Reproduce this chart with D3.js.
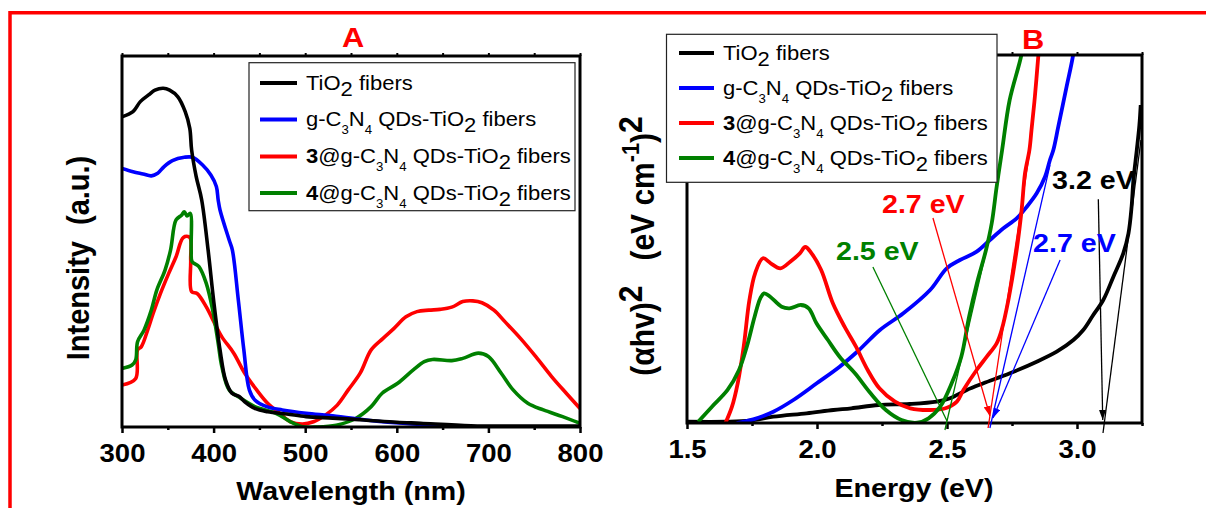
<!DOCTYPE html>
<html>
<head>
<meta charset="utf-8">
<script src="https://cdn.jsdelivr.net/npm/d3@7"></script>
<style>
  body { margin: 0; background: #fff; }
  svg { display: block; }
</style>
</head>
<body>
<svg id="fig" width="1206" height="508"></svg>
<script>
// ---------- Panel A: photoluminescence-type spectra (intensity, a.u.) ----------
const tio2Wl  = [300,312,320,329,336,345,352,361,369,374,376,381,387,394,400,407,413,420,428,434,445,459,480,501,530,564,600,626,681,740,800];
const tio2Int = [83.6,85.0,87.7,89.5,90.8,91.3,90.8,89.0,85.0,80.5,74.7,67.5,61.2,47.7,34.2,20.8,12.7,9.1,8.2,6.8,5.0,4.1,3.5,2.8,2.4,1.9,1.3,1.0,0.35,0.27,0.27];

const gcnWl  = [300,312,323,332,339,346,355,368,377,388,397,403,405,407,417,420.5,427,433,439,445,458,475,501,530,584,626,668,720,800];
const gcnInt = [69.7,68.8,68.2,67.7,68.4,70.2,71.8,72.7,72.7,70.6,67.9,64.8,61.2,58.5,50.4,47.7,34.2,20.8,10.0,7.3,5.5,4.6,3.7,3.0,1.4,0.67,0.08,0,0];

const s3Wl  = [300,315,317,321,328,334,342,351,359,367,374,375,376,382,392,401,409,422,434,447,459,472,484,497,509,522,535,547,560,572,585,597,610,622,635,647,660,672,683,693,706,718,735,752,769,785,800];
const s3Int = [11.3,13.1,20.8,21.6,26.1,30.6,36.0,41.4,45.9,51.1,51.1,45.0,36.5,36.0,32.4,28.0,24.3,19.9,14.5,10.0,6.4,3.7,1.4,0.8,1.4,3.2,5.9,10.0,14.5,20.8,23.9,26.6,29.7,31.1,31.5,31.7,32.3,33.8,34.0,33.5,31.5,28.4,23.9,18.9,13.6,9.1,5.0];

const s4Wl  = [300,311,315,317,324,332,338,347,353,359,365,368,371,374.5,375.5,376.5,384,392,399,405,409,417,430,445,468,484,497,513,534,555,572,584,601,618,630,639,660,672,689,700,714,727,743,760,781,800];
const s4Int = [15.8,16.7,18.1,23.0,26.1,31.5,36.9,42.3,47.7,55.8,57.1,58.0,56.9,57.6,47.7,44.6,43.2,38.7,31.5,22.6,16.3,10.0,7.7,5.5,3.7,1.4,0.08,0,0.5,2.3,5.5,9.1,11.8,15.4,17.6,18.2,17.9,18.5,19.9,19.0,14.5,10.0,6.4,4.6,2.8,1.0];

const wlTicks = [300,400,500,600,700,800];
const wlMinor = [350,450,550,650,750];

// ---------- Panel B: Tauc plot, (alpha h nu)^2 vs photon energy ----------
const tio2E   = [1.5,1.65,1.742,1.832,1.96,2.063,2.132,2.237,2.356,2.46,2.512,2.576,2.64,2.742,2.845,2.922,2.986,3.024,3.06,3.101,3.14,3.178,3.198,3.21,3.217,3.23,3.24,3.245];
const tio2Abs = [0.35,0.35,0.63,1.71,2.64,3.53,3.99,4.89,5.16,5.79,6.71,8.97,10.79,13.51,16.66,19.38,22.55,25.27,29.08,33.42,39.76,46.11,51.55,58.78,66.03,74.18,80.98,86.41];

const gcnE   = [1.691,1.755,1.832,1.909,1.999,2.087,2.162,2.242,2.332,2.435,2.499,2.55,2.614,2.665,2.717,2.768,2.807,2.845,2.877,2.896,2.909,2.928,2.96,2.984,2.995];
const gcnAbs = [0,1.0,3.07,6.25,10.79,15.30,19.84,25.27,29.81,36.14,42.04,44.29,46.55,49.73,52.91,55.63,58.78,62.42,66.93,71.47,74.18,80.52,91.39,99.54,105.4];

const s3E   = [1.648,1.673,1.695,1.718,1.740,1.762,1.792,1.822,1.859,1.897,1.934,1.955,1.979,2.016,2.061,2.106,2.150,2.195,2.240,2.300,2.359,2.434,2.494,2.538,2.563,2.614,2.653,2.691,2.71,2.736,2.768,2.787,2.80,2.817,2.825,2.838,2.851,2.86];
const s3Abs = [0,4.43,10.79,20.73,33.42,40.68,44.76,43.40,42.04,43.83,46.11,47.83,46.11,41.58,32.53,26.17,20.73,14.40,9.43,5.79,3.99,3.53,3.99,5.79,8.97,14.40,18.02,21.66,25.27,33.42,47.01,57.88,67.85,74.18,79.62,88.67,99.54,106.8];

const s4E   = [1.543,1.596,1.656,1.70,1.73,1.76,1.782,1.797,1.82,1.864,1.894,1.938,1.968,1.998,2.042,2.087,2.146,2.206,2.265,2.325,2.385,2.429,2.474,2.518,2.555,2.585,2.615,2.65,2.672,2.691,2.712,2.741,2.786,2.80];
const s4Abs = [0.35,4.43,8.97,14.40,20.73,28.89,33.89,35.24,34.32,31.60,31.17,32.07,31.17,27.09,22.55,18.02,13.51,8.07,3.53,0.82,0.08,1.28,4.43,10.79,18.02,28.89,37.96,47.01,54.27,64.21,74.18,87.77,100,106.8];

const eTicks = [1.5,2.0,2.5,3.0];
const eMinor = [1.75,2.25,2.75,3.25];

// Band-gap extrapolations: tangent segments and label pointers, [E, value] pairs
const gapTexts    = ["2.5 eV", "2.7 eV", "2.7 eV", "3.2 eV"];
const gapTangents = [
  [[2.492,-1.9],[2.665,51.1]],
  [[2.658,-1.36],[2.819,74.18]],
  [[2.665,-1.36],[2.896,70.1]],
  [[3.1,-2.72],[3.246,76.9]]
];
const gapPointers = [
  [[2.215,42.39],[2.5,0.54]],
  [[2.446,55.7],[2.665,1.9]],
  [[2.935,44.29],[2.677,1.36]],
  [[3.082,60.79],[3.099,0.82]]
];
const gapLabelAt = [[2.073,44.29],[2.25,56.98],[2.831,46.55],[2.904,63.5]];

// Legend entries: [text, kind] pieces (sub = lowered full size, subs = small subscript, b = bold)
const legendNames = [
  [["TiO"],["2","sub"],[" fibers"]],
  [["g-C"],["3","subs"],["N"],["4","subs"],[" QDs-TiO"],["2","sub"],[" fibers"]],
  [["3","b"],["@g-C"],["3","subs"],["N"],["4","subs"],[" QDs-TiO"],["2","sub"],[" fibers"]],
  [["4","b"],["@g-C"],["3","subs"],["N"],["4","subs"],[" QDs-TiO"],["2","sub"],[" fibers"]]
];

// ---------- styling ----------
const FONT = "'Liberation Sans', Arial, Helvetica, sans-serif";
const SX = 1.1;                     // glyph width factor used by every label
const COLORS = ["#000000", "#0000ff", "#ff0000", "#008000"];
const RED = "#ff0000";

const svg = d3.select("#fig");
svg.append("rect").attr("width",1206).attr("height",508).attr("fill","#fff");

// outer frame (top and left edges)
svg.append("path").attr("d","M1206,12.7H10V508").attr("fill","none")
   .attr("stroke",RED).attr("stroke-width",3.5);

const defs = svg.append("defs");
COLORS.forEach((c,i) => {
  defs.append("marker").attr("id","arr"+i)
    .attr("markerUnits","userSpaceOnUse").attr("markerWidth",11).attr("markerHeight",7)
    .attr("refX",10).attr("refY",3.5).attr("orient","auto")
    .append("path").attr("d","M0,0L10,3.5L0,7Z").attr("fill",c);
});

// rich text with sub/superscripts built from tspans
function rich(textSel, parts, size) {
  let shift = 0;
  parts.forEach(([s, kind]) => {
    let target = 0, fs = size, fw = null;
    if (kind === "sub")  { target = size*0.3; }
    if (kind === "subs") { target = size*0.4; fs = size*0.6; }
    if (kind === "sup")  { target = -size*0.36; fs = size; }
    if (kind === "sups") { target = -size*0.45; fs = size*0.72; }
    if (kind === "b")    { fw = "bold"; }
    const t = textSel.append("tspan").attr("dy", target - shift).attr("font-size", fs).text(s);
    if (fw) t.attr("font-weight", fw);
    shift = target;
  });
}

function label(x, y, parts, o) {
  const t = svg.append("text")
    .attr("transform", `translate(${x},${y}) scale(${SX},1)` + (o.rotate ? ` rotate(${o.rotate})` : ""))
    .attr("text-anchor", o.anchor || "start")
    .attr("font-family", FONT)
    .attr("font-size", o.size)
    .attr("font-weight", o.weight || "normal")
    .attr("fill", o.fill || "#000")
    .style("white-space","pre");
  rich(t, typeof parts === "string" ? [[parts]] : parts, o.size);
  return t;
}

function lineGen(x, y) {
  return d3.line().x(d => x(d[0])).y(d => y(d[1])).curve(d3.curveCatmullRom.alpha(0.5));
}

function frameAxes(x, y, majors, minors, fmt) {
  const [x0, x1] = x.range(), [yb, yt] = y.range();
  const gb = svg.append("g").attr("transform",`translate(0,${yb})`)
    .call(d3.axisBottom(x).tickValues(majors).tickSize(6).tickFormat(fmt));
  gb.select(".domain").remove();
  gb.selectAll("line").attr("stroke","#000").attr("stroke-width",2.5);
  gb.selectAll("text").attr("y",35).attr("dy",null)
    .attr("font-family",FONT).attr("font-size",25).attr("font-weight","bold")
    .attr("fill","#000").attr("transform",`scale(${SX},1)`);
  const gm = svg.append("g").attr("transform",`translate(0,${yb})`)
    .call(d3.axisBottom(x).tickValues(minors).tickSize(3).tickFormat(""));
  gm.select(".domain").remove();
  gm.selectAll("line").attr("stroke","#000").attr("stroke-width",2.5);
  const gt = svg.append("g").attr("transform",`translate(0,${yt})`)
    .call(d3.axisTop(x).tickValues(majors.concat(minors)).tickSize(3).tickFormat(""));
  gt.select(".domain").remove();
  gt.selectAll("line").attr("stroke","#000").attr("stroke-width",2);
  svg.append("rect").attr("x",x0).attr("y",yt).attr("width",x1-x0).attr("height",yb-yt)
    .attr("fill","none").attr("stroke","#000").attr("stroke-width",3);
}

function legend(x, y, w, h, rowY, lx0, lx1, tx) {
  svg.append("rect").attr("x",x).attr("y",y).attr("width",w).attr("height",h)
    .attr("fill","#fff").attr("stroke","#222").attr("stroke-width",1.2);
  legendNames.forEach((parts,i) => {
    svg.append("line").attr("x1",lx0).attr("x2",lx1).attr("y1",rowY[i]).attr("y2",rowY[i])
      .attr("stroke",COLORS[i]).attr("stroke-width",3.8);
    label(tx, rowY[i]+6.5, parts, {size:20});
  });
}

// ================= Panel A =================
const xA = d3.scaleLinear().domain([300,800]).range([122,580]);
const yA = d3.scaleLinear().domain([0,100]).range([427,56]);
const seriesA = [[tio2Wl,tio2Int],[gcnWl,gcnInt],[s3Wl,s3Int],[s4Wl,s4Int]];

defs.append("clipPath").attr("id","clipA").append("rect")
  .attr("x",122).attr("y",56).attr("width",458).attr("height",371);
const gA = svg.append("g").attr("clip-path","url(#clipA)");
[2,3,1,0].forEach(i => {
  gA.append("path").datum(d3.zip(...seriesA[i]))
    .attr("d", lineGen(xA,yA)).attr("fill","none")
    .attr("stroke",COLORS[i]).attr("stroke-width",3.6).attr("stroke-linejoin","round");
});
frameAxes(xA, yA, wlTicks, wlMinor, d3.format("d"));
legend(249, 62.7, 326, 148, [83,119.5,156.5,193], 260, 297, 306);

label(353, 46.7, "A", {size:28, weight:"bold", fill:RED, anchor:"middle"});
label(351, 500, "Wavelength (nm)", {size:26, weight:"bold", anchor:"middle"});
label(89, 258, "Intensity\u00a0\u00a0(a.u.)", {size:29, weight:"bold", anchor:"middle", rotate:-90});

// ================= Panel B =================
const xB = d3.scaleLinear().domain([1.5,3.25]).range([687,1142]);
const yB = d3.scaleLinear().domain([0,100]).range([423,55]);
const seriesB = [[tio2E,tio2Abs],[gcnE,gcnAbs],[s3E,s3Abs],[s4E,s4Abs]];

defs.append("clipPath").attr("id","clipB").append("rect")
  .attr("x",687).attr("y",55).attr("width",455).attr("height",368);
const gB = svg.append("g").attr("clip-path","url(#clipB)");
[0,1,2,3].forEach(i => {
  gB.append("path").datum(d3.zip(...seriesB[i]))
    .attr("d", lineGen(xB,yB)).attr("fill","none")
    .attr("stroke",COLORS[i]).attr("stroke-width",3.8).attr("stroke-linejoin","round");
});
frameAxes(xB, yB, eTicks, eMinor, d3.format(".1f"));

// band-gap order in the annotation arrays: 4@ (green), 3@ (red), g-C3N4 (blue), TiO2 (black)
const gapColorIdx = [3,2,1,0];
const seg = d3.line().x(d => xB(d[0])).y(d => yB(d[1]));
gapTangents.forEach((s,i) => {
  svg.append("path").attr("d", seg(s)).attr("fill","none")
    .attr("stroke",COLORS[gapColorIdx[i]]).attr("stroke-width",1.3);
});
gapPointers.forEach((s,i) => {
  const p = svg.append("path").attr("d", seg(s)).attr("fill","none")
    .attr("stroke",COLORS[gapColorIdx[i]]).attr("stroke-width",1.3);
  if (i > 0) p.attr("marker-end", `url(#arr${gapColorIdx[i]})`);
});
gapTexts.forEach((s,i) => {
  label(xB(gapLabelAt[i][0]), yB(gapLabelAt[i][1]), s,
        {size:26, weight:"bold", fill:COLORS[gapColorIdx[i]]});
});

legend(666.5, 34.3, 330.5, 148, [53,88,123,158], 679, 714, 723);

label(1033, 49.3, "B", {size:28, weight:"bold", fill:RED, anchor:"middle"});
label(914, 497, "Energy (eV)", {size:26, weight:"bold", anchor:"middle"});
label(654, 246, [["(\u03b1hv)"],["2","sup"],["\u00a0\u00a0\u00a0(eV cm"],["-1","sups"],[")"],["2","sup"]],
      {size:30, weight:"bold", anchor:"middle", rotate:-90});
</script>
</body>
</html>
